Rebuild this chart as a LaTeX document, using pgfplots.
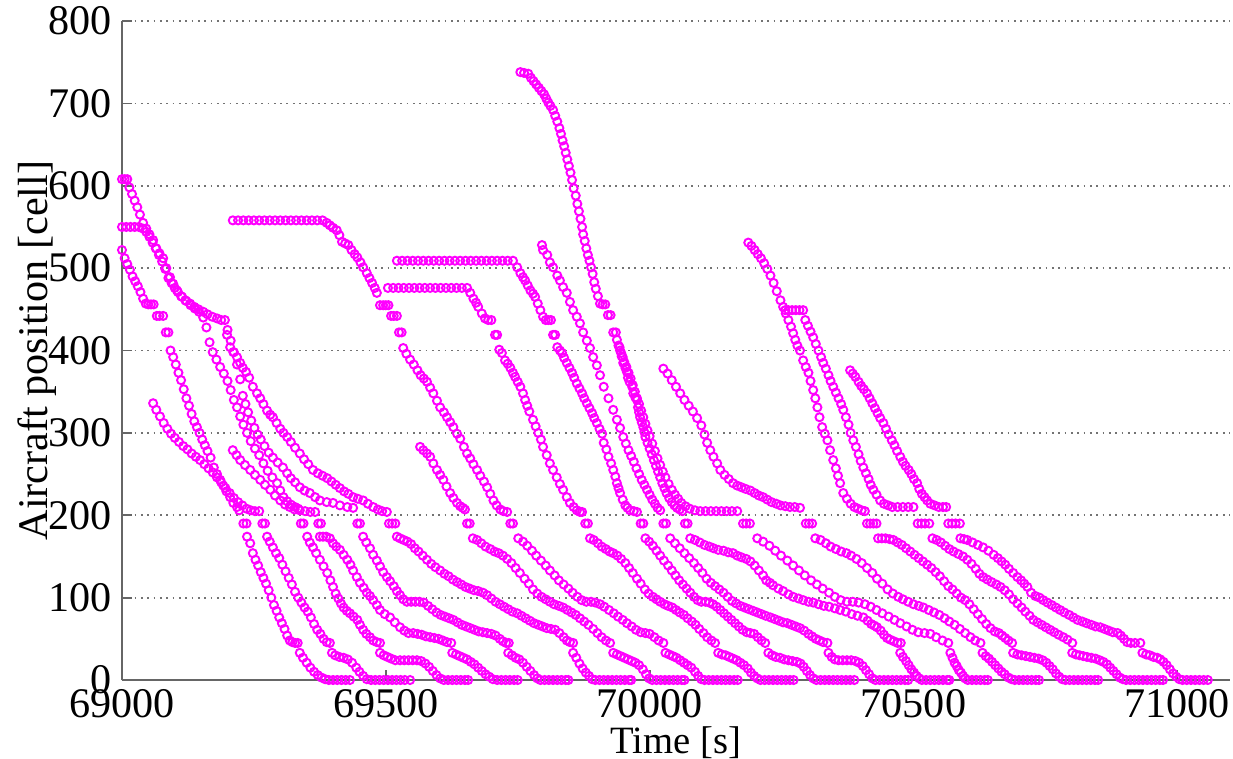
\documentclass[border=0pt]{standalone}
\usepackage{fontspec}
\setmainfont{Liberation Serif}
\usepackage{pgfplots}
\pgfplotsset{compat=1.18}
\definecolor{trajmag}{RGB}{255,0,255}

\pgfplotsset{
  traj/.style={only marks, mark=o, mark size=1.15pt, color=trajmag,
    mark options={line width=0.55pt, fill=none}},
}

\begin{document}
\begin{tikzpicture}
\begin{axis}[
  scale only axis,
  width=11.08cm, height=6.59cm,
  xmin=69000, xmax=71100,
  ymin=0, ymax=800,
  axis x line*=bottom, axis y line*=left,
  axis line style={black!60, line width=0.6pt},
  every tick/.style={black!60, line width=0.5pt},
  major tick length=0.1cm,
  tick align=inside,
  xtick={69000,69500,70000,70500,71000},
  ytick={0,100,...,800},
  scaled x ticks=false,
  /pgf/number format/.cd, 1000 sep={}, assume math mode=true,
  /pgfplots/.cd,
  ymajorgrids,
  major grid style={black!55, line width=0.5pt, dash pattern=on 0.5pt off 1.3pt},
  tick label style={font=\fontsize{12}{14}\selectfont},
  xticklabel style={inner sep=0pt, yshift=-0.09cm},
  yticklabel style={inner sep=0pt, xshift=-0.1cm},
  xlabel style={font=\fontsize{11}{13}\selectfont, at={(axis description cs:0.5,-0.1108)}, anchor=base},
  ylabel style={font=\fontsize{12}{14}\selectfont, at={(axis description cs:-0.0676,0.5)}, anchor=base},
  xlabel={Time [s]},
  ylabel={Aircraft position [cell]},
  clip=false,
]
% ---------------- upper parts: approach down to the 205 queue ----------------
% 522 line
\addplot[traj] coordinates {(69000,522) (69005,512) (69010,505) (69015,498) (69020,490) (69025,484) (69030,478) (69035,471) (69040,463) (69045,457) (69050,456) (69055,456) (69060,456) (69066,442) (69071,442) (69078,442) (69083,422) (69088,422) (69092,400) (69097,392) (69102,383) (69107,373) (69112,364) (69117,353) (69122,342) (69127,333) (69132,323) (69137,314) (69142,307) (69147,300) (69152,292) (69157,285) (69162,278) (69168,270) (69174,258) (69180,250) (69186,243) (69192,236) (69198,229) (69205,222) (69211,215) (69218,210) (69222,206) (69230,190) (69236,190)};
% 336 line
\addplot[traj] coordinates {(69059,336) (69065,328) (69072,320) (69079,312) (69086,305) (69093,299) (69100,294) (69108,289) (69116,284) (69124,280) (69132,275) (69140,271) (69148,267) (69156,262) (69164,257) (69172,252) (69180,246) (69188,240) (69196,233) (69204,227) (69212,221) (69220,216) (69228,212) (69236,208) (69244,206) (69252,205) (69260,205) (69266,190) (69271,190)};
% 550 line
\addplot[traj] coordinates {(69000,550) (69008,550) (69016,550) (69024,550) (69032,550) (69040,548) (69046,544) (69052,538) (69058,531) (69064,524) (69070,516) (69076,508) (69082,499) (69088,488) (69094,482) (69100,476) (69106,471) (69114,465) (69122,460) (69130,455) (69138,451) (69146,447) (69154,440) (69160,428) (69166,410) (69172,398) (69179,389) (69186,380) (69193,372) (69200,363) (69206,352) (69212,340) (69218,331) (69224,320) (69230,310) (69237,300) (69244,290) (69252,281) (69260,273) (69268,263) (69276,254) (69285,246) (69294,239) (69300,230) (69306,222) (69313,217) (69320,213) (69328,210) (69334,208) (69339,190) (69344,190)};
% 279 line
\addplot[traj] coordinates {(69210,279) (69217,273) (69224,267) (69233,261) (69243,255) (69252,249) (69262,243) (69271,237) (69281,231) (69290,224) (69300,218) (69309,213) (69318,210) (69327,207) (69337,206) (69347,205) (69357,204) (69366,204) (69372,190) (69377,190)};
% 608 line
\addplot[traj] coordinates {(69000,608) (69005,608) (69010,608) (69014,598) (69019,590) (69024,582) (69029,574) (69034,565) (69040,555) (69046,548) (69052,541) (69059,534) (69065,524) (69071,518) (69078,512) (69084,500) (69091,489) (69097,481) (69104,473) (69112,466) (69120,461) (69129,457) (69137,453) (69145,450) (69154,447) (69162,444) (69171,441) (69180,439) (69188,437) (69195,437) (69200,425) (69206,412) (69212,398) (69218,383) (69224,365) (69229,345) (69234,335) (69239,325) (69245,315) (69251,306) (69257,298) (69263,292) (69270,284) (69278,276) (69286,270) (69295,264) (69305,258) (69313,251) (69320,245) (69328,240) (69337,234) (69346,230) (69356,227) (69366,222) (69375,218) (69388,216) (69400,215) (69413,212) (69427,210) (69438,209) (69446,190) (69451,190)};
% merging line
\addplot[traj] coordinates {(69199,419) (69205,404) (69211,398) (69218,392) (69224,385) (69229,379) (69235,374) (69241,367) (69248,356) (69256,348) (69262,342) (69268,335) (69275,327) (69281,322) (69286,319) (69293,312) (69300,305) (69306,300) (69313,295) (69320,289) (69328,282) (69337,275) (69345,268) (69353,262) (69362,255) (69371,251) (69380,248) (69389,245) (69397,241) (69405,237) (69413,233) (69421,229) (69429,226) (69438,222) (69447,220) (69457,218) (69466,214) (69476,210) (69485,207) (69493,205) (69502,204) (69506,190) (69512,190) (69518,190)};
% 282 line
\addplot[traj] coordinates {(69565,283) (69571,279) (69578,275) (69584,271) (69590,263) (69597,255) (69603,249) (69609,243) (69615,235) (69622,227) (69628,221) (69635,215) (69641,211) (69646,209) (69650,207) (69654,190) (69659,190)};
% 560 line
\addplot[traj] coordinates {(69210,558) (69220,558) (69230,558) (69240,558) (69250,558) (69260,558) (69270,558) (69280,558) (69290,558) (69300,558) (69310,558) (69320,558) (69330,558) (69340,558) (69350,558) (69360,558) (69370,558) (69380,558) (69388,555) (69394,552) (69400,549) (69407,546) (69412,540) (69417,532) (69423,530) (69429,528) (69435,522) (69441,517) (69446,513) (69452,507) (69457,501) (69464,494) (69469,488) (69474,482) (69479,476) (69483,470) (69489,455) (69495,455) (69500,455) (69505,455) (69510,442) (69515,442) (69521,442) (69525,422) (69530,422) (69533,403) (69539,396) (69546,389) (69553,383) (69560,376) (69566,370) (69572,366) (69578,362) (69584,355) (69590,348) (69597,339) (69603,331) (69610,325) (69616,319) (69622,313) (69628,307) (69635,299) (69641,293) (69648,283) (69654,275) (69660,269) (69666,262) (69673,255) (69679,248) (69686,241) (69692,234) (69698,226) (69704,218) (69710,212) (69717,207) (69723,205) (69730,204) (69736,190) (69741,190)};
% 477 line
\addplot[traj] coordinates {(69504,476) (69514,476) (69524,476) (69534,476) (69544,476) (69554,476) (69564,476) (69574,476) (69584,476) (69594,476) (69604,476) (69614,476) (69624,476) (69634,476) (69644,476) (69654,476) (69660,470) (69666,463) (69671,458) (69675,453) (69682,445) (69688,439) (69694,437) (69700,437) (69707,419) (69711,419) (69715,401) (69720,397) (69726,388) (69731,384) (69736,379) (69741,373) (69745,368) (69750,362) (69755,356) (69760,348) (69764,340) (69768,333) (69772,326) (69779,316) (69784,308) (69789,300) (69794,292) (69798,283) (69805,273) (69811,263) (69817,255) (69824,246) (69830,238) (69836,231) (69843,222) (69849,215) (69856,210) (69862,206) (69868,204) (69872,204) (69878,190) (69883,190)};
% 510 line
\addplot[traj] coordinates {(69521,509) (69531,509) (69541,509) (69551,509) (69561,509) (69571,509) (69581,509) (69591,509) (69601,509) (69611,509) (69621,509) (69631,509) (69641,509) (69651,509) (69661,509) (69671,509) (69681,509) (69691,509) (69701,509) (69711,509) (69721,509) (69731,509) (69741,509) (69749,501) (69755,494) (69760,489) (69764,485) (69769,479) (69774,473) (69779,469) (69783,465) (69788,457) (69793,449) (69798,441) (69803,437) (69808,437) (69813,437) (69817,419) (69821,419) (69825,404) (69830,400) (69834,397) (69838,391) (69843,385) (69848,379) (69853,373) (69857,367) (69862,360) (69867,354) (69872,348) (69876,342) (69881,336) (69886,330) (69891,324) (69895,318) (69900,312) (69905,305) (69910,299) (69913,288) (69918,280) (69922,271) (69927,263) (69931,255) (69935,247) (69938,239) (69941,233) (69944,227) (69949,219) (69954,212) (69958,209) (69963,206) (69970,205) (69976,204) (69983,190) (69988,190)};
% 528 line
\addplot[traj] coordinates {(69796,528) (69798,522) (69806,516) (69811,507) (69817,501) (69825,491) (69830,485) (69836,477) (69843,470) (69849,459) (69855,449) (69862,441) (69868,433) (69874,422) (69881,412) (69887,403) (69893,392) (69900,382) (69906,370) (69913,356) (69922,342) (69931,328) (69938,316) (69944,306) (69950,295) (69955,287) (69960,279) (69965,272) (69970,265) (69975,257) (69980,250) (69985,243) (69990,237) (69995,231) (70000,225) (70005,219) (70010,214) (70015,209) (70020,206) (70026,190) (70031,190)};
% 740 line
\addplot[traj] coordinates {(69755,738) (69762,737) (69770,736) (69775,731) (69780,727) (69785,723) (69790,719) (69795,715) (69800,711) (69804,706) (69808,701) (69812,697) (69817,692) (69821,685) (69825,678) (69829,670) (69832,663) (69835,655) (69838,648) (69841,640) (69844,632) (69847,624) (69850,616) (69853,607) (69856,597) (69860,588) (69863,578) (69866,569) (69869,560) (69872,550) (69874,541) (69877,533) (69880,524) (69883,516) (69886,509) (69889,501) (69892,493) (69895,483) (69898,475) (69902,466) (69906,457) (69911,456) (69916,456) (69921,443) (69926,443) (69931,422) (69936,422) (69938,413) (69941,406) (69944,400) (69947,393) (69950,385) (69954,379) (69957,374) (69959,367) (69962,362) (69967,356) (69969,348) (69973,343) (69976,340) (69978,331) (69980,325) (69982,319) (69985,313) (69988,307) (69990,301) (69992,295) (69996,288) (70000,281) (70004,274) (70008,267) (70012,260) (70016,253) (70020,246) (70024,239) (70028,233) (70032,227) (70037,221) (70042,216) (70047,212) (70052,209) (70057,207) (70062,205) (70067,190) (70072,190)};
% second strand after the 443 stop
\addplot[traj] coordinates {(69943,404) (69946,397) (69949,392) (69952,386) (69956,380) (69960,373) (69964,366) (69968,358) (69972,350) (69976,342) (69980,335) (69984,327) (69988,319) (69992,311) (69996,303) (70000,296) (70005,287) (70010,278) (70015,269) (70020,261) (70025,253) (70030,246) (70036,238) (70042,231) (70048,225) (70054,220) (70060,215) (70068,211) (70076,208) (70086,206) (70096,205) (70106,205) (70116,205) (70126,205) (70136,205) (70146,205) (70156,205) (70166,205) (70177,190) (70183,190) (70190,190)};
% 378 line
\addplot[traj] coordinates {(70026,378) (70034,372) (70042,364) (70050,356) (70058,348) (70066,340) (70074,333) (70082,326) (70090,318) (70098,309) (70104,298) (70109,288) (70115,279) (70121,271) (70128,263) (70134,255) (70142,249) (70150,244) (70158,239) (70166,236) (70174,234) (70182,232) (70191,230) (70199,227) (70207,224) (70215,222) (70223,219) (70231,216) (70240,214) (70248,212) (70257,211) (70266,210) (70275,210) (70285,209) (70296,190) (70302,190) (70308,190)};
% 530 line
\addplot[traj] coordinates {(70187,531) (70193,527) (70199,522) (70205,517) (70211,512) (70217,506) (70223,499) (70229,491) (70235,482) (70241,472) (70248,461) (70253,453) (70258,445) (70263,437) (70268,429) (70272,421) (70276,413) (70280,406) (70285,400) (70291,388) (70296,380) (70301,373) (70305,363) (70310,352) (70314,342) (70318,331) (70322,319) (70327,307) (70332,299) (70337,291) (70342,279) (70348,267) (70353,257) (70357,248) (70361,239) (70367,227) (70374,220) (70381,214) (70388,210) (70395,208) (70402,206) (70408,205) (70412,190) (70418,190) (70424,190) (70430,190)};
% 449 line
\addplot[traj] coordinates {(70257,449) (70263,449) (70270,449) (70277,449) (70284,449) (70291,449) (70295,437) (70300,430) (70305,423) (70310,416) (70315,408) (70320,400) (70325,392) (70329,385) (70334,378) (70339,370) (70343,363) (70348,356) (70353,349) (70358,342) (70363,335) (70367,328) (70372,319) (70377,310) (70381,300) (70386,291) (70391,283) (70396,274) (70400,266) (70405,258) (70410,251) (70415,244) (70419,237) (70424,231) (70430,225) (70437,218) (70444,214) (70452,212) (70460,210) (70470,210) (70480,210) (70490,210) (70500,210) (70508,190) (70515,190) (70522,190) (70530,190)};
% 376 line
\addplot[traj] coordinates {(70380,376) (70385,372) (70390,368) (70396,362) (70401,357) (70406,353) (70412,348) (70417,342) (70422,336) (70427,330) (70432,324) (70437,318) (70443,312) (70448,305) (70453,298) (70459,291) (70464,285) (70469,278) (70475,271) (70480,265) (70485,260) (70491,255) (70496,250) (70501,244) (70507,239) (70511,232) (70516,226) (70521,222) (70526,218) (70532,214) (70540,212) (70548,210) (70556,210) (70562,210) (70566,190) (70573,190) (70580,190) (70588,190)};
% ---------------- middle parts: 172 down to 45 ----------------
\addplot[traj] coordinates {(69237,174) (69243,166) (69248,154) (69253,146) (69258,139) (69263,131) (69268,124) (69273,117) (69278,109) (69283,100) (69288,91) (69293,84) (69298,76) (69303,69) (69308,62) (69313,54) (69318,48) (69323,46) (69328,45) (69333,45)};
\addplot[traj] coordinates {(69275,174) (69280,168) (69286,161) (69292,154) (69298,148) (69304,140) (69310,132) (69316,124) (69322,116) (69328,107) (69334,100) (69340,94) (69346,88) (69352,83) (69358,76) (69364,68) (69370,61) (69376,56) (69382,50) (69388,46) (69394,45)};
\addplot[traj] coordinates {(69351,174) (69356,167) (69362,161) (69368,154) (69375,146) (69382,138) (69389,130) (69395,121) (69400,113) (69405,105) (69410,99) (69415,93) (69420,88) (69426,84) (69432,81) (69439,77) (69446,73) (69451,67) (69457,61) (69463,56) (69470,52) (69476,48) (69483,46) (69489,45)};
\addplot[traj] coordinates {(69375,174) (69381,174) (69387,174) (69394,172) (69400,166) (69406,162) (69413,158) (69420,152) (69427,146) (69433,140) (69438,133) (69445,125) (69451,118) (69458,112) (69464,106) (69470,102) (69476,97) (69483,91) (69489,85) (69498,80) (69508,76) (69517,70) (69527,64) (69535,60) (69543,57) (69552,57) (69560,56) (69568,55) (69576,53) (69584,52) (69592,51) (69600,50) (69608,48) (69616,46) (69624,45)};
\addplot[traj] coordinates {(69457,174) (69463,167) (69470,160) (69476,152) (69483,145) (69489,138) (69495,131) (69502,125) (69508,120) (69515,114) (69521,108) (69527,103) (69533,98) (69540,95) (69548,95) (69556,95) (69564,95) (69572,94) (69580,90) (69588,86) (69596,82) (69604,79) (69612,77) (69620,75) (69628,73) (69636,70) (69644,67) (69652,65) (69660,63) (69668,61) (69676,59) (69684,58) (69692,57) (69700,56) (69708,54) (69716,50) (69722,47) (69728,45) (69733,45)};
\addplot[traj] coordinates {(69521,174) (69527,172) (69534,170) (69541,168) (69548,165) (69555,160) (69562,156) (69570,151) (69578,146) (69586,141) (69594,137) (69603,133) (69611,129) (69619,126) (69627,122) (69635,119) (69643,116) (69651,113) (69659,111) (69667,109) (69675,108) (69684,106) (69692,103) (69700,99) (69708,95) (69716,92) (69724,89) (69732,86) (69740,83) (69749,81) (69757,78) (69765,75) (69773,72) (69781,69) (69789,67) (69797,65) (69805,63) (69813,62) (69821,61) (69829,57) (69837,52) (69843,48) (69849,46) (69855,45)};
\addplot[traj] coordinates {(69665,172) (69673,170) (69681,166) (69689,162) (69698,159) (69706,156) (69714,154) (69722,151) (69730,147) (69738,142) (69746,136) (69754,130) (69763,123) (69771,117) (69779,110) (69787,105) (69795,101) (69803,98) (69811,95) (69819,92) (69828,90) (69836,88) (69844,85) (69852,82) (69860,79) (69868,75) (69876,71) (69884,67) (69893,62) (69901,57) (69909,52) (69917,48) (69925,45)};
\addplot[traj] coordinates {(69751,172) (69760,168) (69768,163) (69777,157) (69785,151) (69794,145) (69803,139) (69811,133) (69820,127) (69828,121) (69837,116) (69846,111) (69854,106) (69863,101) (69871,97) (69880,95) (69889,95) (69897,94) (69906,92) (69914,89) (69923,85) (69932,81) (69940,77) (69949,73) (69957,69) (69966,65) (69974,61) (69983,58) (69992,57) (70000,56) (70009,52) (70017,48) (70026,45)};
\addplot[traj] coordinates {(69887,172) (69894,170) (69902,166) (69909,162) (69917,159) (69924,156) (69931,154) (69939,151) (69946,147) (69954,142) (69961,136) (69968,130) (69976,123) (69983,117) (69991,110) (69998,105) (70006,101) (70013,98) (70020,95) (70028,92) (70035,90) (70043,88) (70050,85) (70057,82) (70065,79) (70072,75) (70080,71) (70087,67) (70094,62) (70102,57) (70109,52) (70117,48) (70124,45)};
\addplot[traj] coordinates {(69992,172) (69999,168) (70006,163) (70013,157) (70020,151) (70027,145) (70035,139) (70042,133) (70049,127) (70056,121) (70063,116) (70070,111) (70077,106) (70084,101) (70091,97) (70098,95) (70106,95) (70113,94) (70120,92) (70127,89) (70134,85) (70141,81) (70148,77) (70155,73) (70162,69) (70169,65) (70176,61) (70184,58) (70191,57) (70198,56) (70205,52) (70212,48) (70219,45)};
\addplot[traj] coordinates {(70039,172) (70048,166) (70057,160) (70066,154) (70075,148) (70084,142) (70092,136) (70100,130) (70108,123) (70116,118) (70124,114) (70132,110) (70140,106) (70148,101) (70156,96) (70164,93) (70172,90) (70180,88) (70188,86) (70196,84) (70204,82) (70212,80) (70220,78) (70229,76) (70237,74) (70245,72) (70253,70) (70261,69) (70269,67) (70277,65) (70285,63) (70293,60) (70301,56) (70308,53) (70315,50) (70322,48) (70329,46) (70337,45)};
\addplot[traj] coordinates {(70077,172) (70086,170) (70095,167) (70104,164) (70113,162) (70121,160) (70130,158) (70140,157) (70149,155) (70158,154) (70166,151) (70174,149) (70183,147) (70191,144) (70199,139) (70207,133) (70215,127) (70221,121) (70228,118) (70234,115) (70244,111) (70253,108) (70263,104) (70272,101) (70282,99) (70291,97) (70301,95) (70310,94) (70320,92) (70330,90) (70340,89) (70351,87) (70361,85) (70372,83) (70383,80) (70394,78) (70405,76) (70413,72) (70420,68) (70426,66) (70431,64) (70438,60) (70444,55) (70450,51) (70456,49) (70463,47) (70470,45) (70476,45)};
\addplot[traj] coordinates {(70204,172) (70215,168) (70227,163) (70238,157) (70249,151) (70261,145) (70272,139) (70283,133) (70294,127) (70306,121) (70317,116) (70328,111) (70340,106) (70351,101) (70362,97) (70374,95) (70385,95) (70396,94) (70408,92) (70419,89) (70430,85) (70441,81) (70453,77) (70464,73) (70475,69) (70487,65) (70498,61) (70509,58) (70521,57) (70532,56) (70543,52) (70555,48) (70566,45)};
\addplot[traj] coordinates {(70314,172) (70324,170) (70334,166) (70343,162) (70353,159) (70363,156) (70373,154) (70382,151) (70392,147) (70402,142) (70412,136) (70422,130) (70431,123) (70441,117) (70451,110) (70461,105) (70471,101) (70480,98) (70490,95) (70500,92) (70510,90) (70519,88) (70529,85) (70539,82) (70549,79) (70559,75) (70568,71) (70578,67) (70588,62) (70598,57) (70608,52) (70617,48) (70627,45)};
\addplot[traj] coordinates {(70433,172) (70440,172) (70447,172) (70455,171) (70462,170) (70470,167) (70478,164) (70486,160) (70494,156) (70502,152) (70510,148) (70518,144) (70526,140) (70534,136) (70542,131) (70550,126) (70558,120) (70566,114) (70574,110) (70582,105) (70590,100) (70598,97) (70606,92) (70614,86) (70622,80) (70630,74) (70638,68) (70646,63) (70654,59) (70662,57) (70668,54) (70674,51) (70680,48) (70687,45)};
\addplot[traj] coordinates {(70536,172) (70544,170) (70552,167) (70560,163) (70568,159) (70576,156) (70585,153) (70594,150) (70602,146) (70610,141) (70618,135) (70625,129) (70632,125) (70640,122) (70648,119) (70657,116) (70665,113) (70673,109) (70681,104) (70689,98) (70697,93) (70705,88) (70712,83) (70720,78) (70727,73) (70735,70) (70743,67) (70751,64) (70759,61) (70767,58) (70775,55) (70784,52) (70792,49) (70801,45)};
\addplot[traj] coordinates {(70589,172) (70596,171) (70602,170) (70612,167) (70622,164) (70632,161) (70642,157) (70652,152) (70660,148) (70667,144) (70674,140) (70681,135) (70689,130) (70697,125) (70704,121) (70710,117) (70716,113) (70723,106) (70731,102) (70739,100) (70746,97) (70754,94) (70762,91) (70770,88) (70778,85) (70786,82) (70795,79) (70803,76) (70811,73) (70820,71) (70828,69) (70837,67) (70845,65) (70854,64) (70862,62) (70870,60) (70878,58) (70887,57) (70893,54) (70899,50) (70905,46) (70912,45) (70920,45) (70930,45)};
% ---------------- last parts: 33 down to 0 and the stop at 0 ----------------
\addplot[traj] coordinates {(69337,33) (69343,27) (69350,21) (69357,15) (69364,10) (69371,6) (69378,3) (69385,1) (69392,0) (69400,0) (69408,0) (69416,0) (69424,0) (69432,0)};
\addplot[traj] coordinates {(69398,33) (69404,30) (69412,28) (69420,27) (69428,25) (69436,21) (69444,15) (69450,10) (69457,5) (69464,1) (69472,0) (69480,0) (69488,0) (69496,0) (69504,0) (69512,0) (69520,0) (69528,0) (69536,0) (69546,0)};
\addplot[traj] coordinates {(69489,33) (69496,30) (69503,28) (69510,26) (69518,24) (69527,24) (69535,24) (69543,24) (69551,24) (69559,24) (69567,23) (69575,20) (69582,16) (69589,11) (69596,6) (69603,2) (69610,0) (69618,0) (69626,0) (69634,0) (69642,0) (69650,0) (69656,0)};
\addplot[traj] coordinates {(69626,33) (69633,31) (69640,29) (69647,27) (69654,25) (69661,22) (69668,19) (69675,15) (69682,11) (69689,7) (69696,4) (69703,1) (69711,0) (69719,0) (69727,0) (69735,0) (69743,0) (69750,0)};
\addplot[traj] coordinates {(69732,33) (69739,30) (69746,27) (69753,25) (69760,21) (69767,16) (69774,11) (69781,6) (69787,2) (69793,0) (69801,0) (69809,0) (69817,0) (69825,0) (69833,0) (69841,0) (69846,0)};
\addplot[traj] coordinates {(69855,33) (69861,27) (69867,20) (69873,14) (69879,9) (69885,5) (69891,1) (69897,0) (69905,0) (69913,0) (69921,0) (69929,0) (69937,0) (69945,0) (69953,0) (69961,0) (69965,0)};
\addplot[traj] coordinates {(69931,33) (69938,31) (69945,29) (69952,27) (69959,25) (69966,23) (69973,21) (69980,18) (69987,13) (69993,7) (69999,2) (70005,0) (70013,0) (70021,0) (70029,0) (70037,0) (70045,0) (70053,0) (70061,0) (70066,0)};
\addplot[traj] coordinates {(70030,33) (70037,31) (70044,29) (70051,27) (70058,24) (70065,21) (70072,18) (70079,15) (70086,10) (70092,5) (70098,1) (70104,0) (70112,0) (70120,0) (70128,0) (70136,0) (70144,0) (70152,0) (70160,0) (70167,0)};
\addplot[traj] coordinates {(70130,33) (70137,31) (70144,30) (70151,28) (70158,26) (70165,24) (70172,21) (70179,18) (70186,14) (70192,9) (70198,5) (70204,2) (70210,0) (70218,0) (70226,0) (70234,0) (70242,0) (70250,0) (70258,0) (70266,0) (70273,0)};
\addplot[traj] coordinates {(70225,33) (70232,30) (70239,28) (70247,27) (70255,25) (70263,24) (70271,23) (70279,22) (70286,20) (70292,16) (70298,11) (70304,6) (70310,2) (70316,0) (70324,0) (70332,0) (70340,0) (70348,0) (70356,0) (70364,0) (70372,0) (70380,0) (70388,0)};
\addplot[traj] coordinates {(70339,33) (70345,28) (70351,25) (70358,24) (70366,24) (70374,24) (70382,24) (70390,23) (70397,21) (70404,17) (70410,12) (70416,7) (70422,2) (70428,0) (70436,0) (70444,0) (70452,0) (70460,0) (70468,0) (70476,0) (70484,0) (70490,0)};
\addplot[traj] coordinates {(70475,33) (70480,28) (70486,23) (70491,18) (70496,13) (70501,9) (70506,5) (70511,2) (70516,0) (70524,0) (70532,0) (70540,0) (70548,0) (70556,0) (70564,0) (70568,0)};
\addplot[traj] coordinates {(70570,33) (70574,27) (70578,21) (70582,17) (70586,12) (70590,9) (70594,5) (70598,2) (70603,0) (70611,0) (70619,0) (70627,0) (70635,0) (70641,0)};
\addplot[traj] coordinates {(70631,33) (70637,29) (70643,26) (70649,22) (70655,18) (70661,14) (70667,10) (70673,7) (70680,3) (70686,1) (70692,0) (70700,0) (70708,0) (70716,0) (70724,0) (70732,0) (70738,0)};
\addplot[traj] coordinates {(70689,33) (70697,31) (70705,30) (70713,29) (70721,28) (70729,27) (70737,26) (70745,24) (70752,21) (70758,17) (70764,13) (70770,8) (70776,4) (70782,1) (70788,0) (70796,0) (70804,0) (70812,0) (70820,0) (70828,0) (70836,0) (70844,0) (70850,0)};
\addplot[traj] coordinates {(70801,33) (70808,31) (70815,30) (70822,29) (70829,28) (70837,27) (70845,26) (70853,24) (70860,22) (70867,19) (70873,15) (70879,11) (70885,7) (70891,3) (70897,1) (70903,0) (70911,0) (70919,0) (70927,0) (70935,0) (70943,0) (70951,0) (70959,0) (70967,0) (70973,0)};
\addplot[traj] coordinates {(70934,33) (70941,31) (70948,30) (70955,28) (70962,27) (70968,25) (70974,22) (70980,18) (70986,13) (70992,8) (70998,4) (71004,1) (71010,0) (71018,0) (71026,0) (71034,0) (71042,0) (71050,0) (71058,0)};
\end{axis}
\pgfresetboundingbox
\path (current axis.south west) ++(-1.22cm,-0.78cm) rectangle ++(12.33cm,7.58cm);
\end{tikzpicture}
\end{document}
